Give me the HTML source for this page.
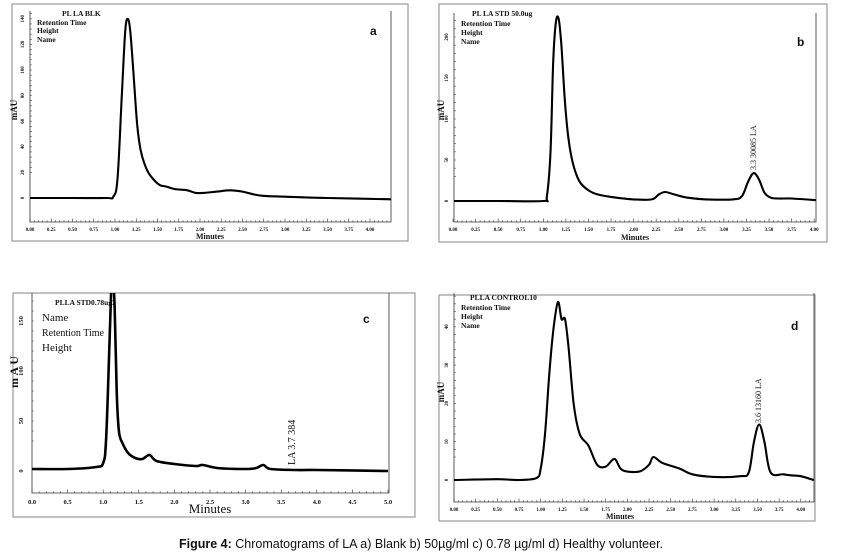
<!DOCTYPE html>
<html><head><meta charset="utf-8"><style>
body{margin:0;background:#fff;width:841px;height:560px;overflow:hidden}
svg{display:block}
text{font-family:"Liberation Serif",serif;fill:#111}
</style></head><body>
<svg id="fig" width="841" height="560" viewBox="0 0 841 560" xmlns="http://www.w3.org/2000/svg">
<text x="421" y="548" text-anchor="middle" style="font-family:'Liberation Sans',sans-serif;font-size:12.5px"><tspan font-weight="bold">Figure 4:</tspan> Chromatograms of LA a) Blank b) 50µg/ml c) 0.78 µg/ml d) Healthy volunteer.</text>
</svg>
<script>
// ---- data (time in minutes, response in mAU) ----
const timeA=[0,0.5,0.9,0.98,1.03,1.08,1.12,1.15,1.18,1.22,1.26,1.3,1.35,1.4,1.46,1.53,1.6,1.7,1.85,1.95,2.05,2.2,2.35,2.5,2.7,3.0,3.5,4.25];
const mauA=[0,0,0,1,15,80,130,140,130,95,58,38,26,19,14,10,9,7,6,4,4,5,6,5,2,1,0,-1];
const timeB=[0,0.5,1.0,1.04,1.08,1.11,1.14,1.17,1.2,1.24,1.28,1.33,1.4,1.5,1.6,1.75,2.0,2.2,2.28,2.35,2.45,2.6,2.8,3.1,3.2,3.27,3.33,3.39,3.45,3.52,3.6,3.75,4.02];
const mauB=[0,0,0,6,60,170,218,222,190,120,75,45,24,13,8,5,2,2,8,11,8,4,2,2,6,24,34,26,10,4,3,3,1];
const timeC=[0,0.5,0.9,1.0,1.04,1.08,1.11,1.13,1.16,1.19,1.22,1.27,1.35,1.45,1.55,1.65,1.75,2.0,2.3,2.4,2.6,3.0,3.15,3.25,3.35,3.7,4.0,5.0];
const mauC=[2,2,4,8,30,110,175,195,165,80,40,28,18,13,12,16,10,7,5,6,3,2,3,6,2,1,1,0];
const timeD=[0,0.5,0.75,0.95,1.0,1.05,1.1,1.15,1.2,1.24,1.28,1.32,1.38,1.45,1.55,1.65,1.75,1.85,1.92,2.0,2.15,2.25,2.3,2.4,2.6,2.75,3.0,3.3,3.4,3.46,3.52,3.58,3.65,3.8,3.9,4.0,4.15];
const mauD=[0,0.2,0,0.5,3,12,28,40,46.5,42,42,35,20,12,9,4,3.5,5.5,3,2.2,2.3,4,6,4.5,3,1.5,0.8,1,2,10,14.5,10,2,1.5,1.2,1,0];
const xTicksA=["0.00","0.25","0.50","0.75","1.00","1.25","1.50","1.75","2.00","2.25","2.50","2.75","3.00","3.25","3.50","3.75","4.00"];
const yTicksA=[0,20,40,60,80,100,120,140];
const xTicksC=["0.0","0.5","1.0","1.5","2.0","2.5","3.0","3.5","4.0","4.5","5.0"];
const yTicksB=[0,50,100,150,200];
const yTicksC=[0,50,100,150];
const yTicksD=[0,10,20,30,40];

const NS="http://www.w3.org/2000/svg";
const svg=document.getElementById('fig');
function mk(tag,attrs,parent){const e=document.createElementNS(NS,tag);for(const k in attrs)e.setAttribute(k,attrs[k]);(parent||svg).appendChild(e);return e;}
function smooth(pts){
  let d=`M${pts[0][0].toFixed(1)} ${pts[0][1].toFixed(1)}`;
  for(let i=0;i<pts.length-1;i++){
    const p0=pts[i-1]||pts[i],p1=pts[i],p2=pts[i+1],p3=pts[i+2]||p2;
    const c1=[p1[0]+(p2[0]-p0[0])/6,p1[1]+(p2[1]-p0[1])/6];
    const c2=[p2[0]-(p3[0]-p1[0])/6,p2[1]-(p3[1]-p1[1])/6];
    d+=`C${c1[0].toFixed(1)} ${c1[1].toFixed(1)} ${c2[0].toFixed(1)} ${c2[1].toFixed(1)} ${p2[0].toFixed(1)} ${p2[1].toFixed(1)}`;
  }
  return d;
}

const panels=[
 {id:'a',frame:[12,4,396,237],L:30,R:391,T:11,B:222,x0:30,xs:85,y0:198,ys:1.28,t:timeA,v:mauA,xt:xTicksA,xstep:0.25,yt:yTicksA,fs:5,
  head:[["PL LA BLK",62,16],["Retention Time",37,25],["Height",37,33],["Name",37,42]],hfs:7.5,letter:["a",370,35],ylab:[17,110,"mAU"],xlab:[210,239,"Minutes"]},
 {id:'b',frame:[439,4,388,238],L:454,R:816,T:13,B:222,x0:453,xs:90.3,y0:201,ys:0.82,t:timeB,v:mauB,xt:xTicksA,xstep:0.25,yt:yTicksB,fs:5,
  head:[["PL LA  STD 50.0ug",472,16],["Retention Time",461,26],["Height",461,35],["Name",461,44]],hfs:7.5,letter:["b",797,46],ylab:[444,110,"mAU"],xlab:[635,240,"Minutes"],
  peak:[753,170,"3.3  30085  LA"]},
 {id:'c',frame:[13,293,402,224],L:32,R:389,T:293,B:493,x0:32,xs:71.2,y0:471,ys:1.0,t:timeC,v:mauC,xt:xTicksC,xstep:0.5,yt:yTicksC,fs:6.5,
  head:[["PLLA STD0.78ug2",55,305],["Name",42,321],["Retention Time",42,336],["Height",42,351]],hfs:11,letter:["c",363,323],ylab:[18,372,"m A U"],xlab:[210,513,"Minutes"],
  peak:[292,465,"LA  3.7  384"],big:true},
 {id:'d',frame:[439,295,376,226],L:454,R:814,T:293,B:502,x0:454,xs:86.7,y0:480,ys:3.83,t:timeD,v:mauD,xt:xTicksA,xstep:0.25,yt:yTicksD,fs:5,
  head:[["PLLA  CONTROL10",470,300],["Retention Time",461,310],["Height",461,319],["Name",461,328]],hfs:7.5,letter:["d",791,330],ylab:[444,392,"mAU"],xlab:[620,519,"Minutes"],
  peak:[758,423,"3.6  13160  LA"]}
];

panels.forEach(p=>{
  const g=mk('g',{});
  
  
  const X=t=>p.x0+t*p.xs, Y=v=>p.y0-v*p.ys;
  const fr=mk('rect',{x:p.frame[0],y:p.frame[1],width:p.frame[2],height:p.frame[3],fill:'none',stroke:'#9a9a9a','stroke-width':1.2},g);
  
  
  const ax=mk('path',{d:`M${p.L} ${p.T}V${p.B}H${p.R}V${p.T}`,fill:'none',stroke:'#333','stroke-width':0.8},g);
  
  
  const xmax=(p.R-p.x0)/p.xs, minor=p.xstep/5;
  let tk='';
  for(let t=0;t<=xmax+1e-6;t+=minor){tk+=`M${X(t)} ${p.B}v${-1.8}`;}
  p.xt.forEach((s,i)=>{tk+=`M${X(i*p.xstep)} ${p.B}v-3.5`;});
  const ymin=(p.y0-p.B)/p.ys*-1, ymax=(p.y0-p.T)/p.ys;
  const ystep=p.yt[1]-p.yt[0];
  for(let v=Math.ceil(ymin/(ystep/5))*(ystep/5);v<=ymax;v+=ystep/5){tk+=`M${p.L} ${Y(v)}h1.8`;}
  const ticks=mk('path',{d:tk,stroke:'#333','stroke-width':0.6},g);
  
  
  p.xt.forEach((s,i)=>{
    const e=mk('text',{x:X(i*p.xstep),y:p.B+(p.big?11:9),'text-anchor':'middle','font-size':p.fs,'font-weight':'bold'},g);
    e.textContent=s;
    
    
  });
  p.yt.forEach(v=>{
    const xx=p.L-(p.big?9:6), yy=Y(v);
    const e=mk('text',{x:xx,y:yy,'text-anchor':'middle','font-size':p.fs,'font-weight':'bold',transform:`rotate(-90 ${xx} ${yy})`},g);
    e.textContent=v;
    
    
  });
  const yl=mk('text',{x:p.ylab[0],y:p.ylab[1],'text-anchor':'middle','font-size':p.big?12:9,'font-weight':'bold',transform:`rotate(-90 ${p.ylab[0]} ${p.ylab[1]})`},g);
  yl.textContent=p.ylab[2];
  
  
  const xl=mk('text',{x:p.xlab[0],y:p.xlab[1],'text-anchor':'middle','font-size':p.big?13:8,'font-weight':p.big?'normal':'bold'},g);
  xl.textContent=p.xlab[2];
  
  
  p.head.forEach((h,i)=>{
    const sz=(p.big&&i>0)?(i==2?10:11):(p.big?7.5:p.hfs);
    const e=mk('text',{x:h[1],y:h[2],'font-size':sz,'font-weight':p.big?(i==0?'bold':'normal'):'bold'},g);
    e.textContent=h[0];
    
    
  });
  const lt=mk('text',{x:p.letter[1],y:p.letter[2],'font-size':12,'font-weight':'bold',style:'font-family:"Liberation Sans",sans-serif'},g);
  lt.textContent=p.letter[0];
  
  
  if(p.peak){
    const e=mk('text',{x:p.peak[0]+3,y:p.peak[1],'font-size':p.big?10:8,transform:`rotate(-90 ${p.peak[0]+3} ${p.peak[1]})`},g);
    e.textContent=p.peak[2];
    
    
  }
  const cid='clip'+p.id;
  const cp=mk('clipPath',{id:cid},g);
  mk('rect',{x:p.L,y:p.T,width:p.R-p.L,height:p.B-p.T},cp);
  const pts=p.t.map((t,i)=>[X(t),Y(p.v[i])]);
  const ln=mk('path',{d:smooth(pts),fill:'none',stroke:'#000','stroke-width':p.big?2.6:2.1,'stroke-linejoin':'round','clip-path':`url(#${cid})`},g);
  
  
});
</script>
</body></html>
